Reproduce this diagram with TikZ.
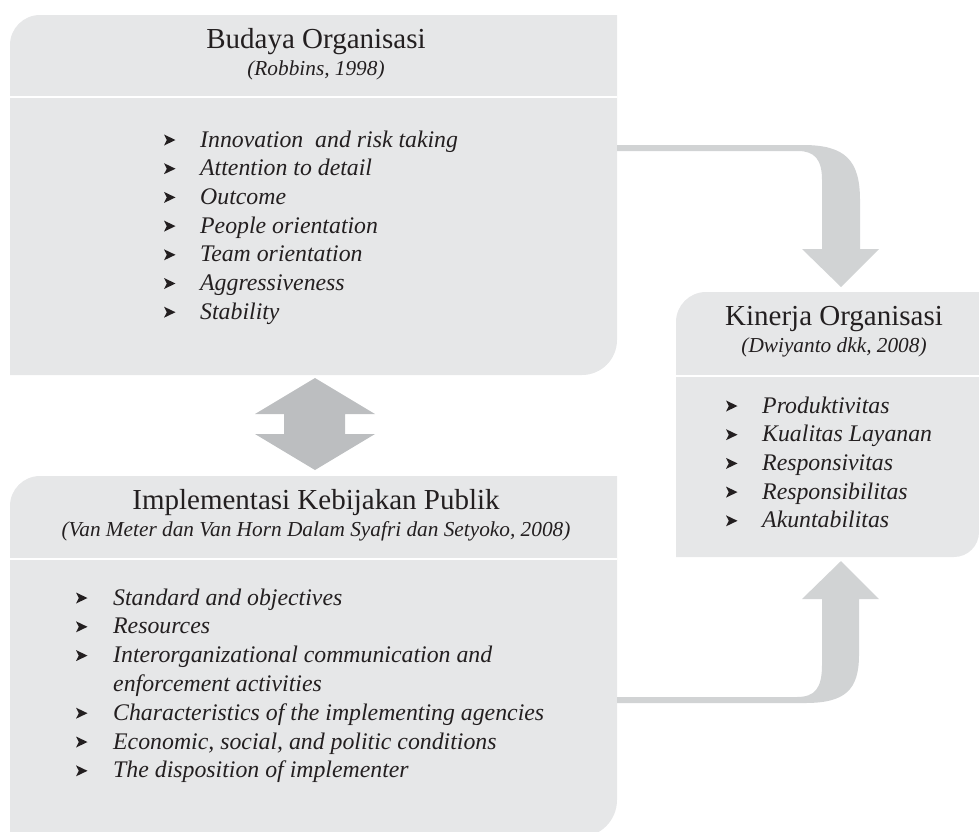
\documentclass[tikz,border=0pt]{standalone}
\usepackage{fontspec}
\setmainfont{Liberation Serif}
\definecolor{panel}{HTML}{E6E7E8}
\definecolor{flow}{HTML}{D1D3D4}
\definecolor{twoway}{HTML}{BCBEC0}
\definecolor{ink}{HTML}{231F20}
\begin{document}
\begin{tikzpicture}[x=1pt,y=-1pt,
  panelfill/.style={fill=panel},
  divider/.style={draw=white,line width=2.5pt},
  headtitle/.style={anchor=base,inner sep=0pt,text=ink,font=\fontsize{29}{33}\selectfont},
  headsource/.style={anchor=base,inner sep=0pt,text=ink,font=\fontsize{21.3}{25}\selectfont\itshape},
  itemtext/.style={anchor=base west,inner sep=0pt,text=ink,font=\fontsize{23.8}{28}\selectfont\itshape},
  bul/.pic={\fill[ink] (0,-5.5) -- (11.5,0) -- (0,5.5) -- (2.8,0) -- cycle;}]
\useasboundingbox (0,0) rectangle (979,831);
\begin{scope}
\clip (0,0) rectangle (979,831);

% panels
\fill[panelfill] (10,375) -- (10,45) arc[start angle=180,end angle=270,radius=30]
  -- (617,15) -- (617,340) arc[start angle=0,end angle=90,radius=35] -- cycle;
\fill[panelfill] (676,557) -- (676,322) arc[start angle=180,end angle=270,radius=30]
  -- (979,292) -- (979,532) arc[start angle=0,end angle=90,radius=25] -- cycle;
\fill[panelfill] (10,840) -- (10,506) arc[start angle=180,end angle=270,radius=30]
  -- (617,476) -- (617,800) arc[start angle=0,end angle=90,radius=37] -- (10,837) -- cycle;

\draw[divider] (10,97) -- (617,97);
\draw[divider] (676,376) -- (979,376);
\draw[divider] (10,559) -- (617,559);

% curved arrow: culture -> performance
\fill[flow] (617,145) -- (803,145) .. controls (845,145) and (860,160) .. (860,200)
  -- (860,249) -- (879,249) -- (841,287) -- (802,249) -- (822,249) -- (822,180)
  .. controls (822,160) and (815,151) .. (798,151) -- (617,151) -- cycle;

% curved arrow: policy implementation -> performance
\fill[flow] (617,697) -- (797,697) .. controls (815,697) and (822,688) .. (822,665)
  -- (822,599) -- (802,599) -- (841,561) -- (879,599) -- (859,599) -- (859,655)
  .. controls (859,690) and (845,703) .. (805,703) -- (617,703) -- cycle;

% two-way arrow between the left panels
\fill[twoway] (315,378) -- (375,414) -- (345,414) -- (345,434) -- (375,434)
  -- (315,470) -- (255,434) -- (284,434) -- (284,414) -- (255,414) -- cycle;
\end{scope}

% Budaya Organisasi
\node[headtitle] (bo-title) at (316,48) {Budaya Organisasi};
\node[headsource] (bo-src) at (316,75) {(Robbins, 1998)};
\foreach \txt [count=\i from 0] in {{Innovation\ \ and risk taking},{Attention to detail},
  {Outcome},{People orientation},{Team orientation},{Aggressiveness},{Stability}}{
  \pic at (164,{140+28.7*\i}) {bul};
  \node[itemtext] (bo-\i) at (200,{147+28.7*\i}) {\txt};
}

% Kinerja Organisasi
\node[headtitle] (ko-title) at (834,325) {Kinerja Organisasi};
\node[headsource] (ko-src) at (834,352) {(Dwiyanto dkk, 2008)};
\foreach \txt [count=\i from 0] in {{Produktivitas},{Kualitas Layanan},
  {Responsivitas},{Responsibilitas},{Akuntabilitas}}{
  \pic at (726,{406+28.7*\i}) {bul};
  \node[itemtext] (ko-\i) at (762,{413+28.7*\i}) {\txt};
}

% Implementasi Kebijakan Publik
\node[headtitle] (ik-title) at (316,509) {Implementasi Kebijakan Publik};
\node[headsource] (ik-src) at (316,536) {(Van Meter dan Van Horn Dalam Syafri dan Setyoko, 2008)};
\foreach \txt/\row in {{Standard and objectives}/0,{Resources}/1,
  {Interorganizational communication and}/2,
  {Characteristics of the implementing agencies}/4,
  {Economic, social, and politic conditions}/5,{The disposition of implementer}/6}{
  \pic at (76,{598+28.8*\row}) {bul};
  \node[itemtext] (ik-\row) at (113,{605+28.8*\row}) {\txt};
}
\node[itemtext] (ik-3) at (113,{605+28.8*3}) {enforcement activities};
\end{tikzpicture}
\end{document}
